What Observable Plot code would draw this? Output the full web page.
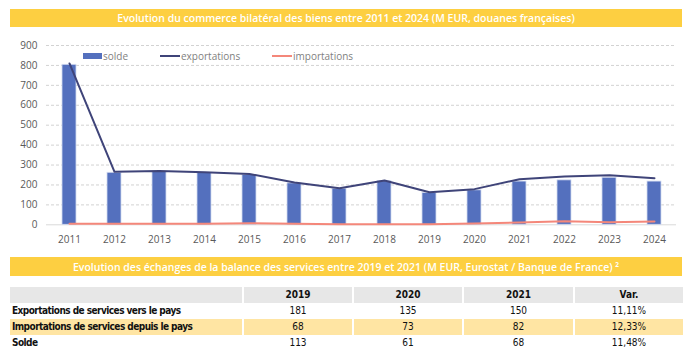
<!DOCTYPE html>
<html>
<head>
<meta charset="utf-8">
<script src="https://cdn.jsdelivr.net/npm/d3@7"></script>
<script src="https://cdn.jsdelivr.net/npm/@observablehq/plot@0.6"></script>
<style>
  html, body { margin: 0; padding: 0; background: #fff; }
  #root { position: relative; width: 697px; height: 353px; overflow: hidden; font-family: "Open Sans", sans-serif; }
  .bar { position: absolute; left: 10px; width: 672px; background: #fdcf41; color: #fff;
         font-family: "Open Sans", sans-serif; font-weight: 600; font-size: 10.5px;
         display: flex; align-items: center; justify-content: center; white-space: nowrap; }
  #chart { position: absolute; left: 0; top: 30px; }
  #legend { position: absolute; left: 0; top: 0; width: 697px; height: 0; font-size: 10px; color: #7f7f7f; }
  .lg { position: absolute; top: 49px; height: 14px; display: flex; align-items: center; white-space: nowrap; }
  .sw { display: inline-block; width: 20px; margin-right: 1px; }
  table { position: absolute; left: 8px; top: 287px; border-collapse: separate; border-spacing: 2px 0;
          table-layout: fixed; font-family: "DejaVu Sans Condensed", "DejaVu Sans", sans-serif;
          font-size: 10px; color: #111; }
  td, th { padding: 0 2px; height: 16px; line-height: 16px; white-space: nowrap; overflow: hidden; }
  th { background: #e7e7e7; font-weight: bold; text-align: center; }
  td { text-align: center; }
  td.lab { text-align: left; font-weight: bold; letter-spacing: -0.55px; }
  tr.hl td { background: #ffe5a3; }
</style>
</head>
<body>
<div id="root">
  <div class="bar" id="t1" style="top:9px;height:18px;"></div>
  <div id="chart"></div>
  <div id="legend"></div>
  <div class="bar" id="t2" style="top:257px;height:19px;"></div>
  <table id="tbl"></table>
</div>
<script>
// ---- Chart data ----
const title1 = "Evolution du commerce bilatéral des biens entre 2011 et 2024 (M EUR, douanes françaises)";
const years = [2011, 2012, 2013, 2014, 2015, 2016, 2017, 2018, 2019, 2020, 2021, 2022, 2023, 2024];
const solde = [803, 261, 266, 260, 250, 208, 181, 219, 160, 173, 217, 223, 236, 217];
const exportations = [810, 266, 270, 264, 255, 212, 183, 222, 163, 179, 229, 242, 249, 234];
const importations = [5, 5, 5, 5, 8, 5, 3, 3, 3, 6, 12, 18, 13, 17];
const yTicks = [0, 100, 200, 300, 400, 500, 600, 700, 800, 900];
const seriesNames = ["solde", "exportations", "importations"];
const seriesColors = ["#5470be", "#3f4479", "#f4877a"];

// ---- Table data ----
const title2 = "Evolution des échanges de la balance des services entre 2019 et 2021 (M EUR, Eurostat / Banque de France) ²";
const tableHeader = ["", "2019", "2020", "2021", "Var."];
const rowLabels = ["Exportations de services vers le pays", "Importations de services depuis le pays", "Solde"];
const rowExport = ["181", "135", "150", "11,11%"];
const rowImport = ["68", "73", "82", "12,33%"];
const rowSolde = ["113", "61", "68", "11,48%"];

document.getElementById("t1").textContent = title1;
document.getElementById("t2").textContent = title2;

const data = years.map((y, i) => ({year: String(y), solde: solde[i], exp: exportations[i], imp: importations[i]}));

const chart = Plot.plot({
  width: 697,
  height: 222,
  marginTop: 15,
  marginBottom: 27.7,
  marginLeft: 46,
  marginRight: 21,
  style: {fontFamily: "'Open Sans', sans-serif", fontSize: "10px", color: "#595959", background: "transparent", overflow: "visible"},
  x: {type: "band", domain: years.map(String), paddingInner: 0.69, paddingOuter: 0.345, label: null},
  y: {domain: [0, 900], label: null},
  marks: [
    Plot.ruleY(yTicks.filter(d => d > 0), {stroke: "#d2d2d2", strokeDasharray: "3,2"}),
    Plot.ruleY([0], {stroke: "#d9d9d9"}),
    Plot.barY(data, {x: "year", y: "solde", fill: seriesColors[0], stroke: "#d3dbf0", strokeWidth: 0.8}),
    Plot.lineY(data, {x: "year", y: "imp", stroke: seriesColors[2], strokeWidth: 2}),
    Plot.lineY(data, {x: "year", y: "exp", stroke: seriesColors[1], strokeWidth: 2}),
    Plot.axisY({ticks: yTicks, tickSize: 0, tickPadding: 9, label: null}),
    Plot.axisX({tickSize: 0, tickPadding: 11, label: null})
  ]
});
document.getElementById("chart").appendChild(chart);

// ---- Legend ----
const legendX = [83, 160, 272];
const legend = document.getElementById("legend");
seriesNames.forEach((name, i) => {
  const item = document.createElement("div");
  item.className = "lg";
  item.style.left = legendX[i] + "px";
  const sw = document.createElement("span");
  sw.className = "sw";
  sw.style.background = seriesColors[i];
  sw.style.height = i === 0 ? "6px" : "2.5px";
  if (i === 0) sw.style.width = "19px";
  item.appendChild(sw);
  const tx = document.createElement("span");
  tx.textContent = name;
  item.appendChild(tx);
  legend.appendChild(item);
});

// ---- Table ----
const colWidths = [228, 104, 104, 105, 104];
const tbl = document.getElementById("tbl");
const cg = document.createElement("colgroup");
colWidths.forEach(w => { const c = document.createElement("col"); c.style.width = (w + 4) + "px"; cg.appendChild(c); });
tbl.appendChild(cg);
const thr = document.createElement("tr");
tableHeader.forEach(h => { const th = document.createElement("th"); th.textContent = h; thr.appendChild(th); });
tbl.appendChild(thr);
[rowExport, rowImport, rowSolde].forEach((vals, r) => {
  const tr = document.createElement("tr");
  if (r === 1) tr.className = "hl";
  const lab = document.createElement("td");
  lab.className = "lab";
  lab.textContent = rowLabels[r];
  tr.appendChild(lab);
  vals.forEach(v => { const td = document.createElement("td"); td.textContent = v; tr.appendChild(td); });
  tbl.appendChild(tr);
});
</script>
</body>
</html>
